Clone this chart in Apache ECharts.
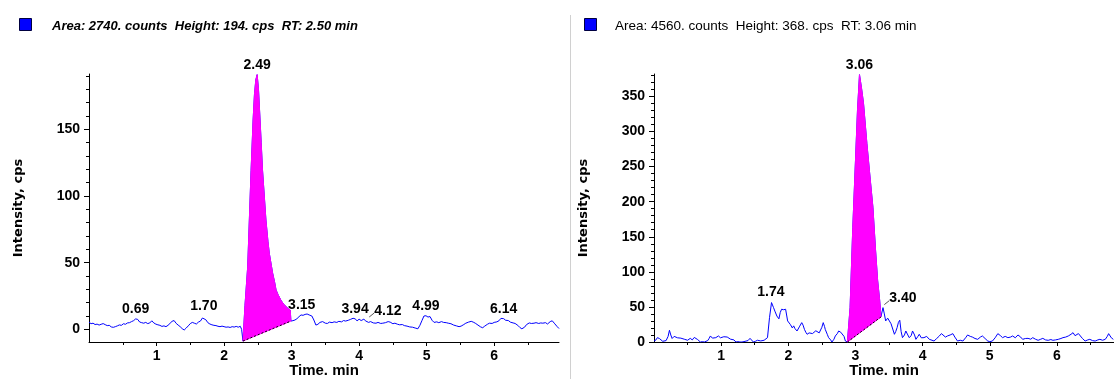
<!DOCTYPE html>
<html><head><meta charset="utf-8">
<script src="https://cdn.jsdelivr.net/npm/echarts@6/dist/echarts.min.js"></script>
<style>html,body{margin:0;padding:0;background:#fff}#c{width:1114px;height:379px}</style>
</head><body><div id="c"></div>
<script>
// ---------------- DATA ----------------
const leftHeader = 'Area: 2740. counts  Height: 194. cps  RT: 2.50 min';
const rightHeader = 'Area: 4560. counts  Height: 368. cps  RT: 3.06 min';
const xTitle = 'Time. min';
const yTitle = 'Intensity, cps';

const xTicks = [1, 2, 3, 4, 5, 6];
const xMinorTicks = [0.5, 1.5, 2.5, 3.5, 4.5, 5.5, 6.5];
const leftYTicks = [0, 50, 100, 150];
const leftYMinorTicks = [10, 20, 30, 40, 60, 70, 80, 90, 110, 120, 130, 140, 160, 170, 180, 190];
const rightYTicks = [0, 50, 100, 150, 200, 250, 300, 350];
const rightYMinorTicks = [10, 20, 30, 40, 60, 70, 80, 90, 110, 120, 130, 140, 160, 170, 180, 190,
  210, 220, 230, 240, 260, 270, 280, 290, 310, 320, 330, 340, 360, 370, 380];

const leftTrace = [
[0.00,5.5],[0.03,4.2],[0.06,4.6],[0.09,3.6],[0.12,3.9],[0.15,3.2],[0.18,3.8],[0.21,4.3],[0.24,3.5],[0.27,2.8],
[0.30,3.0],[0.33,1.8],[0.36,1.5],[0.39,2.0],[0.42,2.6],[0.45,3.3],[0.48,3.0],[0.51,4.2],[0.54,3.8],[0.57,4.8],
[0.60,5.0],[0.63,5.8],[0.66,6.5],[0.69,7.8],[0.72,7.5],[0.75,5.5],[0.78,5.0],[0.81,4.6],[0.84,5.2],[0.87,4.3],
[0.90,4.8],[0.93,6.4],[0.96,4.8],[0.99,3.9],[1.02,3.4],[1.05,3.0],[1.08,2.2],[1.11,2.6],[1.14,2.0],[1.17,3.0],
[1.20,4.5],[1.23,6.0],[1.26,6.6],[1.29,4.5],[1.32,3.2],[1.35,2.0],[1.38,0.5],[1.41,-0.5],[1.44,1.0],[1.47,2.6],
[1.50,4.3],[1.53,5.2],[1.56,4.6],[1.59,4.0],[1.62,5.4],[1.65,6.2],[1.68,8.5],[1.70,10.0],[1.73,7.2],[1.76,5.0],
[1.79,4.0],[1.82,3.4],[1.85,3.0],[1.88,2.8],[1.91,2.3],[1.94,2.0],[1.97,2.4],[2.00,2.0],[2.03,1.6],[2.06,1.8],
[2.09,1.4],[2.12,2.0],[2.15,1.7],[2.18,2.2],[2.21,1.6],[2.24,2.3],[2.26,0.0],[2.28,-8.8],[2.31,18],[2.35,47],
[2.38,90],[2.40,119],[2.43,157],[2.45,176],[2.47,187],[2.49,191],[2.51,180],[2.53,160],[2.55,140],[2.57,119],
[2.60,97],[2.62,82],[2.65,66],[2.67,57],[2.70,48],[2.72,42],[2.75,35],[2.77,29.5],[2.80,26],[2.84,22],
[2.88,19],[2.92,17],[2.95,15.5],[2.98,14.5],[2.99,6.2],[3.02,6.5],[3.05,7.0],[3.08,8.0],[3.11,9.5],[3.14,10.8],
[3.17,10.5],[3.20,11.2],[3.23,11.5],[3.26,10.8],[3.30,10.0],[3.33,7.0],[3.36,3.2],[3.39,3.8],[3.42,5.2],[3.46,5.8],
[3.50,4.6],[3.53,4.4],[3.56,5.4],[3.60,5.0],[3.63,5.6],[3.67,5.2],[3.70,6.0],[3.74,5.6],[3.77,6.6],[3.80,6.2],
[3.84,6.8],[3.87,7.4],[3.91,8.3],[3.94,7.9],[3.97,6.4],[4.00,7.6],[4.03,6.6],[4.07,7.6],[4.10,6.2],[4.14,5.2],
[4.17,5.8],[4.21,4.8],[4.25,4.6],[4.28,5.2],[4.32,4.4],[4.35,4.6],[4.39,5.0],[4.43,5.8],[4.46,5.4],[4.50,4.2],
[4.53,4.6],[4.57,3.8],[4.60,3.4],[4.64,3.6],[4.67,2.8],[4.71,2.4],[4.75,1.8],[4.79,1.6],[4.83,1.0],[4.87,0.4],
[4.90,3.0],[4.93,6.5],[4.96,10.0],[4.99,10.2],[5.02,9.2],[5.05,9.6],[5.08,6.8],[5.11,5.2],[5.15,5.6],[5.18,5.0],
[5.22,5.8],[5.25,5.2],[5.29,5.0],[5.32,4.6],[5.36,4.2],[5.40,3.2],[5.44,2.6],[5.48,2.0],[5.51,2.4],[5.55,3.6],
[5.58,4.6],[5.62,5.4],[5.66,6.0],[5.69,5.4],[5.72,4.6],[5.76,3.2],[5.80,1.8],[5.83,1.2],[5.86,2.4],[5.90,3.8],
[5.93,4.6],[5.97,4.4],[6.00,5.2],[6.04,5.6],[6.07,6.4],[6.10,8.2],[6.14,8.0],[6.17,6.8],[6.21,6.6],[6.24,5.4],
[6.28,4.8],[6.31,4.4],[6.35,3.0],[6.38,1.4],[6.41,0.4],[6.45,1.6],[6.48,3.6],[6.52,4.8],[6.55,4.4],[6.59,4.6],
[6.62,5.0],[6.66,4.4],[6.69,4.8],[6.72,4.6],[6.76,5.0],[6.79,4.0],[6.83,5.8],[6.86,6.4],[6.89,4.6],[6.93,2.2],
[6.96,0.6]
];

const rightTrace = [
[0.00,1.4],[0.03,3.0],[0.05,6.2],[0.08,5.0],[0.10,3.8],[0.13,1.0],[0.15,0],[0.18,2.0],[0.21,8.0],[0.23,16.7],
[0.25,10.0],[0.27,5.0],[0.30,8.0],[0.32,9.5],[0.35,6.0],[0.37,3.8],[0.40,5.5],[0.42,7.1],[0.45,4.0],[0.47,1.4],
[0.50,2.5],[0.52,4.0],[0.54,5.2],[0.57,3.0],[0.60,6.5],[0.62,8.6],[0.65,3.5],[0.67,1.0],[0.69,0],[0.72,0.5],
[0.75,0],[0.77,0],[0.80,2.0],[0.82,5.0],[0.84,8.6],[0.87,5.5],[0.89,7.0],[0.92,6.2],[0.94,4.5],[0.96,8.6],
[0.99,6.0],[1.01,5.2],[1.04,7.5],[1.06,4.8],[1.09,7.1],[1.11,6.0],[1.14,4.0],[1.16,5.2],[1.19,3.0],[1.22,0],
[1.25,0.5],[1.28,0],[1.31,0],[1.34,0.6],[1.36,1.4],[1.40,2.0],[1.43,5.2],[1.45,3.0],[1.48,0],[1.51,1.0],
[1.54,2.5],[1.56,3.8],[1.59,1.5],[1.61,0],[1.64,2.5],[1.66,5.2],[1.69,6.2],[1.71,7.0],[1.72,34.7],[1.75,56.2],
[1.78,49],[1.80,44],[1.83,37],[1.86,33],[1.88,42],[1.90,46.7],[1.93,46],[1.96,46.7],[1.99,30],[2.01,28],
[2.03,25],[2.06,20],[2.08,23],[2.10,19],[2.13,15.7],[2.15,18],[2.17,22.6],[2.20,27.6],[2.22,24],[2.24,18],
[2.26,14],[2.28,11],[2.31,13],[2.33,15.7],[2.36,12],[2.38,13.3],[2.41,16],[2.43,18],[2.46,13],[2.48,15.7],
[2.50,21],[2.52,27.6],[2.54,22],[2.55,18],[2.58,11],[2.60,6.2],[2.63,3],[2.65,0],[2.68,4],[2.70,8.6],
[2.73,12],[2.75,15.7],[2.78,14],[2.80,13.3],[2.83,8],[2.85,1.4],[2.88,0],[2.92,49],[2.96,163],[3.00,258],
[3.03,330],[3.06,381],[3.09,362],[3.12,340],[3.17,283],[3.22,232],[3.26,192],[3.30,130],[3.33,88],[3.36,60],
[3.38,36],[3.41,49],[3.43,40],[3.45,30],[3.48,34],[3.50,32],[3.53,26],[3.55,27.6],[3.58,11],[3.60,15],
[3.62,20.5],[3.64,28],[3.66,31],[3.68,15],[3.70,6.2],[3.73,10],[3.75,15.7],[3.78,10],[3.80,6.2],[3.83,9],
[3.85,15.7],[3.88,10],[3.90,3.8],[3.93,8],[3.95,11],[3.98,6],[4.02,6.2],[4.06,8],[4.10,3.8],[4.14,2.5],
[4.17,1.4],[4.21,5],[4.25,8.6],[4.28,12],[4.30,11.9],[4.34,7],[4.37,8.6],[4.41,10],[4.45,11.9],[4.48,7],
[4.52,1.4],[4.56,2.5],[4.60,1.4],[4.64,6],[4.67,10],[4.71,8],[4.74,7.1],[4.78,5],[4.82,3.8],[4.86,7],
[4.89,8.6],[4.93,5],[4.97,1.4],[5.00,0.5],[5.04,1.4],[5.08,6],[5.12,11.9],[5.16,9],[5.19,6.2],[5.23,8],
[5.27,6.2],[5.31,7],[5.34,8.6],[5.38,6],[5.42,10],[5.46,7],[5.49,3.8],[5.53,5],[5.57,5.2],[5.61,4],
[5.64,6.2],[5.68,4],[5.72,2.4],[5.76,4],[5.79,5.2],[5.83,3],[5.87,2.4],[5.91,3.5],[5.94,2.4],[5.98,3],
[6.02,3.8],[6.06,5],[6.09,6.2],[6.13,7],[6.17,8.6],[6.21,11],[6.24,13.3],[6.27,9],[6.29,10],[6.32,12],
[6.34,11.9],[6.38,5],[6.42,1.4],[6.46,3],[6.49,3.8],[6.53,2],[6.57,1.4],[6.61,3],[6.64,3.8],[6.68,2.5],
[6.72,3.8],[6.75,8],[6.77,11.9],[6.81,6],[6.84,3.8]
];

// integration baselines: [start point], [end point]
const leftPeakBaseline = [[2.28, -8.8], [2.99, 6.2]];
const rightPeakBaseline = [[2.88, 0], [3.38, 35.7]];

// peak apex labels: [time, intensity]
const leftPeakLabels = [[0.69,7.8],[1.70,10.0],[2.49,191],[3.15,10.8],[3.94,7.9],[4.12,7.0],[4.99,10.2],[6.14,8.0]];
const rightPeakLabels = [[1.74,56.2],[3.06,381],[3.40,49]];
const leaderLabels = ['4.12', '3.40'];

// ---------------- CHART ----------------
const FONT = '"Liberation Sans", Arial, Helvetica, sans-serif';
const WIDE = '"DejaVu Sans", Verdana, sans-serif';
const chart = echarts.init(document.getElementById('c'), null, {renderer: 'canvas'});

function mainX(grid, max) {
  return {
    type: 'value', gridIndex: grid, min: 0, max: max, position: 'bottom',
    name: xTitle, nameLocation: 'middle', nameGap: 21, nameMoveOverlap: false,
    nameTextStyle: {color: '#000', fontWeight: 'bold', fontSize: 15, fontFamily: FONT},
    axisLine: {show: true, onZero: false, lineStyle: {color: '#000', width: 1}},
    axisTick: {show: true, length: 4, customValues: xTicks, lineStyle: {color: '#000'}},
    axisLabel: {customValues: xTicks, margin: 7, color: '#000', fontWeight: 'bold', fontSize: 14, fontFamily: FONT},
    splitLine: {show: false}
  };
}
function minorX(grid, max) {
  return {
    type: 'value', gridIndex: grid, min: 0, max: max, position: 'bottom',
    axisLine: {show: false, onZero: false},
    axisTick: {show: true, length: 3, customValues: xMinorTicks, lineStyle: {color: '#000'}},
    axisLabel: {show: false}, splitLine: {show: false}
  };
}
function mainY(grid, min, max, ticks) {
  return {
    type: 'value', gridIndex: grid, min: min, max: max, position: 'left',
    name: yTitle, nameLocation: 'middle', nameGap: 64, nameMoveOverlap: false,
    nameTextStyle: {color: '#000', fontWeight: 'bold', fontSize: 13, fontFamily: WIDE},
    axisLine: {show: true, onZero: false, lineStyle: {color: '#000', width: 1}},
    axisTick: {show: true, length: 5, customValues: ticks, lineStyle: {color: '#000'}},
    axisLabel: {customValues: ticks, margin: 9, color: '#000', fontWeight: 'bold', fontSize: 14, fontFamily: FONT},
    splitLine: {show: false}
  };
}
function minorY(grid, min, max, ticks) {
  return {
    type: 'value', gridIndex: grid, min: min, max: max, position: 'left',
    axisLine: {show: false, onZero: false},
    axisTick: {show: true, length: 3, customValues: ticks, lineStyle: {color: '#000'}},
    axisLabel: {show: false}, splitLine: {show: false}
  };
}

function peakArea(trace, base) {
  return function (params, api) {
    const pts = [api.coord(base[0])];
    trace.forEach(function (p) {
      if (p[0] > base[0][0] && p[0] <= base[1][0]) pts.push(api.coord(p));
    });
    pts.push(api.coord(base[1]));
    const a = api.coord(base[0]), b = api.coord(base[1]);
    return {
      type: 'group', children: [
        {type: 'polygon', shape: {points: pts}, style: {fill: '#ff00ff', stroke: '#ff00ff', lineWidth: 1}},
        {type: 'line', shape: {x1: a[0], y1: a[1], x2: b[0], y2: b[1]},
          style: {stroke: '#000', lineWidth: 1, lineDash: [2, 2]}}
      ]
    };
  };
}

function peakLabel(params, api) {
  const t = api.value(0), v = api.value(1);
  const p = api.coord([t, v]);
  const txt = t.toFixed(2);
  const font = 'bold 14px ' + FONT;
  if (leaderLabels.indexOf(txt) >= 0) {
    return {
      type: 'group', children: [
        {type: 'line', shape: {x1: p[0] + 2, y1: p[1] - 3, x2: p[0] + 7, y2: p[1] - 7},
          style: {stroke: '#555', lineWidth: 1}},
        {type: 'text', x: p[0] + 7, y: p[1] - 9,
          style: {text: txt, align: 'left', verticalAlign: 'middle', font: font, fill: '#000'}}
      ]
    };
  }
  return {type: 'text', x: p[0], y: p[1] - 10,
    style: {text: txt, align: 'center', verticalAlign: 'middle', font: font, fill: '#000'}};
}

const option = {
  animation: false,
  backgroundColor: '#fff',
  grid: [
    {left: 89, top: 74, width: 470, height: 268, containLabel: false, outerBoundsMode: 'none'},
    {left: 654, top: 74, width: 460, height: 268, containLabel: false, outerBoundsMode: 'none'}
  ],
  xAxis: [mainX(0, 6.96), minorX(0, 6.96), mainX(1, 6.85), minorX(1, 6.85)],
  yAxis: [mainY(0, -9.5, 191.5, leftYTicks), minorY(0, -9.5, 191.5, leftYMinorTicks),
          mainY(1, 0, 382, rightYTicks), minorY(1, 0, 382, rightYMinorTicks)],
  graphic: [
    {type: 'line', shape: {x1: 570.5, y1: 15, x2: 570.5, y2: 379}, style: {stroke: '#d0d0d0', lineWidth: 1}},
    {type: 'rect', shape: {x: 19.5, y: 18.5, width: 12, height: 12}, style: {fill: '#0000ff', stroke: '#000040', lineWidth: 1}},
    {type: 'text', x: 52, y: 26, style: {text: leftHeader, font: 'italic bold 13px ' + FONT, fill: '#000', verticalAlign: 'middle'}},
    {type: 'rect', shape: {x: 584.5, y: 18.5, width: 12, height: 12}, style: {fill: '#0000ff', stroke: '#000040', lineWidth: 1}},
    {type: 'text', x: 615, y: 26, style: {text: rightHeader, font: '13.5px ' + FONT, fill: '#000', verticalAlign: 'middle'}}
  ],
  series: [
    {type: 'line', xAxisIndex: 0, yAxisIndex: 0, data: leftTrace, symbol: 'none', z: 2,
      lineStyle: {color: '#0000ff', width: 1}},
    {type: 'custom', xAxisIndex: 0, yAxisIndex: 0, data: [leftPeakBaseline[0]], z: 3,
      renderItem: peakArea(leftTrace, leftPeakBaseline)},
    {type: 'custom', xAxisIndex: 0, yAxisIndex: 0, data: leftPeakLabels, z: 4, clip: false,
      renderItem: peakLabel},
    {type: 'line', xAxisIndex: 2, yAxisIndex: 2, data: rightTrace, symbol: 'none', z: 2,
      lineStyle: {color: '#0000ff', width: 1}},
    {type: 'custom', xAxisIndex: 2, yAxisIndex: 2, data: [rightPeakBaseline[0]], z: 3,
      renderItem: peakArea(rightTrace, rightPeakBaseline)},
    {type: 'custom', xAxisIndex: 2, yAxisIndex: 2, data: rightPeakLabels, z: 4, clip: false,
      renderItem: peakLabel}
  ]
};
chart.setOption(option);
</script>
</body></html>
